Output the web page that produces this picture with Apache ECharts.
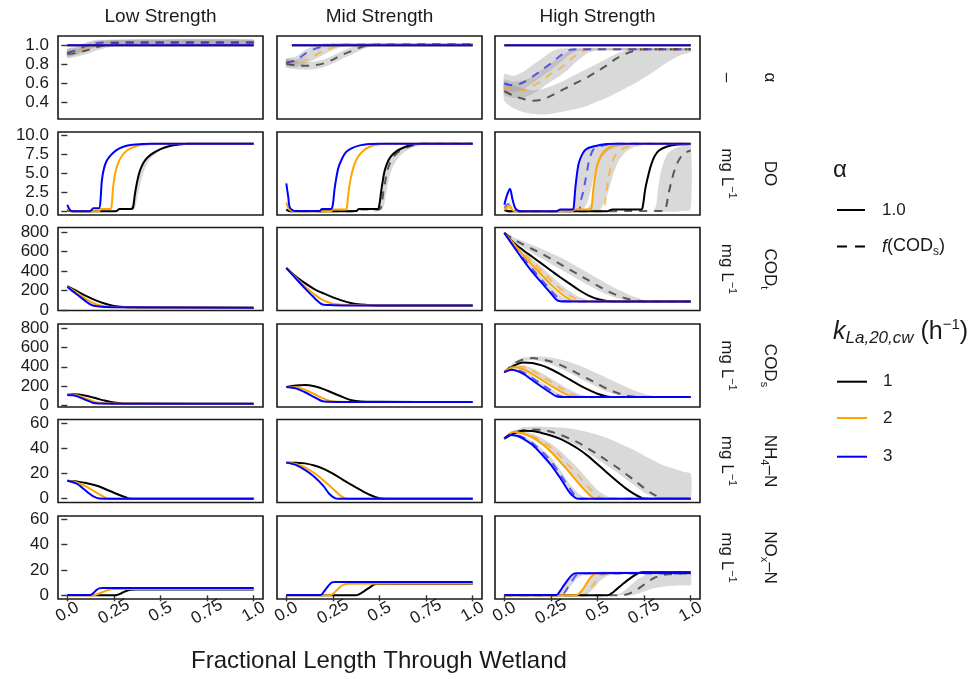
<!DOCTYPE html>
<html>
<head>
<meta charset="utf-8">
<script src="https://cdn.jsdelivr.net/npm/echarts@6/dist/echarts.min.js"></script>
<style>
html,body{margin:0;padding:0;background:#fff}
#chart{width:979px;height:679px}
</style>
</head>
<body>
<div id="chart"></div>
<script>
// ---------- facet labels and ticks ----------
const strengths = ['Low Strength', 'Mid Strength', 'High Strength'];
const rowNames = ['{m|α}', '{m|DO}', '{m|COD}{sub|t}', '{m|COD}{sub|s}', '{m|NH}{sub|4}{m|–N}', '{m|NO}{sub|x}{m|–N}'];
const rowUnits = ['{m|–}', '{m|mg L}{sup|−1}', '{m|mg L}{sup|−1}', '{m|mg L}{sup|−1}', '{m|mg L}{sup|−1}', '{m|mg L}{sup|−1}'];
const klaLevels = ['1', '2', '3'];
const alphaLevels = ['1.0', 'f(COD_s)'];
const xTicks = [0, 0.25, 0.5, 0.75, 1];
const xTickLabels = ['0.0', '0.25', '0.5', '0.75', '1.0'];
const yTicksAlpha = [0.4, 0.6, 0.8, 1.0];
const yLabelsAlpha = ['0.4', '0.6', '0.8', '1.0'];
const yTicksDO = [0, 2.5, 5, 7.5, 10];
const yLabelsDO = ['0.0', '2.5', '5.0', '7.5', '10.0'];
const yTicksCOD = [0, 200, 400, 600, 800];
const yLabelsCOD = ['0', '200', '400', '600', '800'];
const yTicksN = [0, 20, 40, 60];
const yLabelsN = ['0', '20', '40', '60'];

// ---------- alpha ----------
const alphaSolid = [[0, 1], [1, 1]];
const alphaSolidMid = [[0.03, 1], [1, 1]];
const alphaLowK1 = [[0, 0.91], [0.05, 0.92], [0.1, 0.945], [0.15, 0.975], [0.2, 1.0], [0.25, 1.02], [0.3, 1.028], [1, 1.028]];
const alphaLowK2 = [[0, 0.92], [0.05, 0.935], [0.1, 0.975], [0.15, 1.01], [0.2, 1.025], [0.25, 1.028], [1, 1.028]];
const alphaLowK3 = [[0, 0.92], [0.05, 0.95], [0.1, 0.995], [0.15, 1.022], [0.2, 1.028], [1, 1.028]];
const alphaLowRibK1 = [[0, 0.87, 0.95], [0.05, 0.88, 0.96], [0.1, 0.905, 0.985], [0.15, 0.94, 1.015], [0.2, 0.97, 1.04], [0.25, 0.99, 1.055], [0.3, 1.005, 1.058], [1, 1.005, 1.058]];
const alphaLowRibK2 = [[0, 0.88, 0.96], [0.05, 0.9, 0.975], [0.1, 0.94, 1.015], [0.15, 0.975, 1.045], [0.2, 0.995, 1.055], [0.25, 1.005, 1.058], [1, 1.005, 1.058]];
const alphaLowRibK3 = [[0, 0.88, 0.96], [0.05, 0.91, 0.99], [0.1, 0.96, 1.03], [0.15, 0.99, 1.055], [0.2, 1.005, 1.058], [1, 1.005, 1.058]];
const alphaMidK1 = [[0, 0.81], [0.05, 0.79], [0.1, 0.785], [0.15, 0.79], [0.2, 0.81], [0.25, 0.85], [0.3, 0.9], [0.35, 0.94], [0.4, 0.98], [0.45, 1.0], [0.5, 1.007], [1, 1.007]];
const alphaMidK2 = [[0, 0.82], [0.05, 0.81], [0.1, 0.84], [0.15, 0.89], [0.2, 0.94], [0.25, 0.98], [0.3, 1.0], [0.35, 1.007], [1, 1.007]];
const alphaMidK3 = [[0, 0.82], [0.05, 0.84], [0.1, 0.91], [0.15, 0.96], [0.2, 0.99], [0.25, 1.005], [1, 1.007]];
const alphaMidRibK1 = [[0, 0.77, 0.85], [0.05, 0.75, 0.83], [0.1, 0.745, 0.825], [0.15, 0.75, 0.83], [0.2, 0.77, 0.85], [0.25, 0.81, 0.89], [0.3, 0.86, 0.94], [0.35, 0.9, 0.98], [0.4, 0.95, 1.01], [0.45, 0.985, 1.02], [0.5, 0.995, 1.02], [1, 0.995, 1.02]];
const alphaMidRibK2 = [[0, 0.78, 0.86], [0.05, 0.77, 0.85], [0.1, 0.8, 0.88], [0.15, 0.85, 0.93], [0.2, 0.9, 0.98], [0.25, 0.95, 1.01], [0.3, 0.985, 1.02], [0.35, 0.995, 1.02], [1, 0.995, 1.02]];
const alphaMidRibK3 = [[0, 0.78, 0.86], [0.05, 0.8, 0.88], [0.1, 0.87, 0.95], [0.15, 0.93, 0.99], [0.2, 0.975, 1.02], [0.25, 0.995, 1.02], [1, 0.995, 1.02]];
const alphaHighK1 = [[0, 0.52], [0.05, 0.47], [0.1, 0.44], [0.15, 0.42], [0.2, 0.43], [0.25, 0.47], [0.3, 0.52], [0.35, 0.57], [0.4, 0.62], [0.45, 0.67], [0.5, 0.73], [0.55, 0.79], [0.6, 0.86], [0.65, 0.91], [0.7, 0.945], [0.75, 0.958], [1, 0.958]];
const alphaHighK2 = [[0, 0.56], [0.05, 0.53], [0.1, 0.53], [0.15, 0.57], [0.2, 0.63], [0.25, 0.7], [0.3, 0.76], [0.35, 0.84], [0.4, 0.92], [0.45, 0.955], [0.5, 0.958], [1, 0.958]];
const alphaHighK3 = [[0, 0.6], [0.05, 0.58], [0.1, 0.61], [0.15, 0.67], [0.2, 0.74], [0.25, 0.81], [0.3, 0.89], [0.35, 0.95], [0.4, 0.958], [1, 0.958]];
const alphaHighRibK1 = [[0, 0.42, 0.62], [0.05, 0.34, 0.58], [0.1, 0.3, 0.55], [0.15, 0.28, 0.53], [0.2, 0.275, 0.54], [0.25, 0.28, 0.57], [0.3, 0.3, 0.61], [0.35, 0.32, 0.66], [0.4, 0.34, 0.71], [0.45, 0.37, 0.76], [0.5, 0.41, 0.81], [0.55, 0.45, 0.86], [0.6, 0.5, 0.91], [0.65, 0.55, 0.945], [0.7, 0.6, 0.965], [0.75, 0.66, 0.97], [0.8, 0.72, 0.97], [0.85, 0.79, 0.97], [0.9, 0.85, 0.97], [0.95, 0.9, 0.97], [1, 0.93, 0.97]];
const alphaHighRibK2 = [[0, 0.48, 0.64], [0.05, 0.45, 0.62], [0.1, 0.45, 0.63], [0.15, 0.49, 0.67], [0.2, 0.55, 0.74], [0.25, 0.62, 0.81], [0.3, 0.68, 0.88], [0.35, 0.76, 0.94], [0.4, 0.85, 0.965], [0.45, 0.92, 0.97], [0.5, 0.945, 0.97], [1, 0.945, 0.97]];
const alphaHighRibK3 = [[0, 0.53, 0.7], [0.05, 0.51, 0.68], [0.1, 0.54, 0.72], [0.15, 0.6, 0.79], [0.2, 0.67, 0.86], [0.25, 0.74, 0.93], [0.3, 0.82, 0.965], [0.35, 0.9, 0.97], [0.4, 0.945, 0.97], [1, 0.945, 0.97]];

// ---------- dissolved oxygen ----------
const doLowK1 = [[0, 0.2], [0.02, 0.05], [0.1, 0.05], [0.26, 0.05], [0.28, 0.35], [0.34, 0.35], [0.352, 0.5], [0.362, 2.2], [0.372, 3.6], [0.385, 5.0], [0.4, 6.0], [0.42, 6.8], [0.45, 7.5], [0.5, 8.2], [0.55, 8.6], [0.6, 8.8], [0.65, 8.9], [1, 8.9]];
const doLowK2 = [[0, 0.4], [0.02, 0.1], [0.1, 0.05], [0.17, 0.05], [0.18, 0.35], [0.23, 0.35], [0.238, 0.8], [0.245, 3.0], [0.255, 4.8], [0.27, 6.2], [0.29, 7.2], [0.32, 8.0], [0.36, 8.5], [0.4, 8.75], [0.5, 8.9], [1, 8.9]];
const doLowK3 = [[0, 0.9], [0.015, 0.2], [0.03, 0.05], [0.12, 0.05], [0.14, 0.45], [0.17, 0.45], [0.178, 1.5], [0.185, 4.0], [0.195, 5.5], [0.21, 6.6], [0.23, 7.3], [0.26, 8.0], [0.3, 8.5], [0.35, 8.75], [0.45, 8.9], [1, 8.9]];
const doLowRibK1 = [[0.34, 0.2, 0.5], [0.355, 0.3, 1.5], [0.365, 0.6, 3.0], [0.375, 1.8, 4.2], [0.39, 3.5, 5.5], [0.41, 5.2, 6.5], [0.44, 6.8, 7.4], [0.5, 8.0, 8.3], [0.6, 8.75, 8.85], [1, 8.85, 8.92]];
const doMidK1 = [[0, 0.3], [0.02, 0.05], [0.2, 0.05], [0.375, 0.1], [0.39, 0.35], [0.49, 0.35], [0.5, 1.0], [0.508, 2.5], [0.516, 3.8], [0.526, 5.2], [0.54, 6.3], [0.56, 7.2], [0.59, 7.9], [0.63, 8.4], [0.67, 8.75], [0.72, 8.9], [1, 8.9]];
const doMidK1Dash = [[0, 0.3], [0.02, 0.05], [0.38, 0.05], [0.4, 0.3], [0.5, 0.3], [0.512, 1.0], [0.52, 2.5], [0.53, 3.8], [0.54, 5.2], [0.555, 6.3], [0.575, 7.2], [0.605, 7.9], [0.645, 8.4], [0.685, 8.75], [0.74, 8.9], [1, 8.9]];
const doMidK2 = [[0, 1.2], [0.015, 0.3], [0.04, 0.05], [0.24, 0.05], [0.25, 0.3], [0.32, 0.3], [0.327, 1.0], [0.335, 2.8], [0.345, 4.3], [0.36, 5.8], [0.38, 7.0], [0.41, 7.9], [0.44, 8.4], [0.48, 8.75], [0.54, 8.9], [1, 8.9]];
const doMidK3 = [[0, 3.7], [0.01, 2.0], [0.02, 0.5], [0.05, 0.08], [0.18, 0.08], [0.19, 0.35], [0.24, 0.35], [0.25, 1.0], [0.258, 2.8], [0.268, 4.4], [0.28, 5.8], [0.3, 7.0], [0.32, 7.8], [0.35, 8.3], [0.39, 8.65], [0.45, 8.85], [0.5, 8.9], [1, 8.9]];
const doMidRibK1 = [[0.47, 0, 0.4], [0.49, 0.05, 0.4], [0.5, 0.2, 1.0], [0.51, 0.3, 3.0], [0.52, 0.5, 4.5], [0.53, 1.5, 5.6], [0.54, 3.0, 6.3], [0.55, 4.3, 6.8], [0.57, 5.8, 7.5], [0.6, 7.0, 8.1], [0.64, 7.9, 8.5], [0.68, 8.4, 8.8], [0.74, 8.8, 8.9], [1, 8.85, 8.9]];
const doHighK1 = [[0, 0.3], [0.02, 0.05], [0.55, 0.05], [0.58, 0.3], [0.735, 0.3], [0.745, 1.0], [0.755, 2.8], [0.768, 4.3], [0.786, 6.0], [0.805, 7.2], [0.83, 8.0], [0.87, 8.5], [0.92, 8.75], [1, 8.85]];
const doHighK2 = [[0, 0.2], [0.015, 0.6], [0.03, 0.8], [0.045, 0.2], [0.07, 0.05], [0.36, 0.05], [0.38, 0.3], [0.462, 0.3], [0.47, 1.0], [0.477, 2.8], [0.485, 4.3], [0.5, 6.2], [0.52, 7.4], [0.54, 8.0], [0.57, 8.5], [0.62, 8.75], [0.7, 8.9], [1, 8.9]];
const doHighK3 = [[0, 0.9], [0.015, 2.2], [0.03, 3.0], [0.045, 1.5], [0.06, 0.4], [0.09, 0.05], [0.28, 0.05], [0.3, 0.3], [0.368, 0.3], [0.374, 1.0], [0.38, 2.8], [0.388, 4.6], [0.4, 6.4], [0.42, 7.6], [0.44, 8.2], [0.49, 8.6], [0.55, 8.85], [0.6, 8.9], [1, 8.9]];
const doHighK1Dash = [[0, 0.2], [0.04, 0.05], [0.6, 0.05], [0.65, 0.1], [0.86, 0.1], [0.87, 0.8], [0.88, 2.2], [0.9, 4.3], [0.92, 5.9], [0.945, 7.1], [0.97, 7.7], [1, 8.0]];
const doHighK2Dash = [[0, 0.3], [0.03, 0.5], [0.06, 0.1], [0.4, 0.1], [0.53, 0.2], [0.54, 1.0], [0.548, 2.5], [0.558, 4.3], [0.57, 5.7], [0.585, 6.9], [0.61, 7.8], [0.64, 8.3], [0.68, 8.65], [0.75, 8.85], [1, 8.9]];
const doHighK3Dash = [[0, 0.5], [0.02, 1.0], [0.04, 0.4], [0.07, 0.05], [0.35, 0.1], [0.4, 0.2], [0.41, 1.4], [0.425, 2.8], [0.436, 4.2], [0.457, 6.9], [0.48, 8.2], [0.52, 8.6], [0.56, 8.8], [0.62, 8.9], [1, 8.9]];
const doHighRibK1 = [[0.8, 0, 0.1], [0.815, 0, 0.8], [0.825, 0, 3.0], [0.84, 0, 5.2], [0.86, 0, 6.8], [0.88, 0, 7.7], [0.91, 0, 8.2], [0.95, 0.1, 8.55], [1, 0.3, 8.7]];
const doHighRibK2 = [[0.44, 0, 0.3], [0.47, 0, 1.2], [0.48, 0.1, 4.0], [0.49, 0.1, 5.6], [0.5, 0.2, 6.5], [0.52, 0.5, 7.5], [0.55, 2.0, 8.1], [0.58, 4.5, 8.5], [0.61, 6.5, 8.7], [0.65, 7.8, 8.8], [0.7, 8.5, 8.9], [0.78, 8.9, 8.9], [1, 8.9, 8.9]];
const doHighRibK3 = [[0.36, 0, 0.3], [0.375, 0, 0.8], [0.385, 0.1, 3.5], [0.395, 0.1, 5.8], [0.41, 0.2, 7.2], [0.43, 0.5, 8.0], [0.45, 1.5, 8.4], [0.47, 3.5, 8.6], [0.49, 5.5, 8.7], [0.52, 7.0, 8.8], [0.56, 8.0, 8.9], [0.62, 8.6, 8.9], [0.7, 8.9, 8.9], [1, 8.9, 8.9]];

// ---------- total COD ----------
const codtLowK1 = [[0, 245], [0.05, 195], [0.1, 145], [0.15, 102], [0.2, 66], [0.25, 40], [0.3, 30], [0.4, 26], [1, 24]];
const codtLowK2 = [[0, 240], [0.05, 178], [0.1, 112], [0.15, 62], [0.2, 38], [0.25, 30], [0.35, 27], [1, 24]];
const codtLowK3 = [[0, 235], [0.05, 162], [0.1, 88], [0.125, 55], [0.15, 40], [0.2, 32], [0.3, 28], [1, 24]];
const codtMidK1 = [[0, 430], [0.05, 345], [0.1, 275], [0.15, 215], [0.2, 170], [0.25, 130], [0.3, 96], [0.35, 70], [0.4, 56], [0.45, 50], [0.55, 47], [1, 45]];
const codtMidK2 = [[0, 430], [0.05, 335], [0.1, 242], [0.15, 160], [0.2, 98], [0.25, 64], [0.3, 53], [0.4, 48], [1, 45]];
const codtMidK3 = [[0, 430], [0.05, 325], [0.1, 222], [0.15, 125], [0.185, 65], [0.2, 54], [0.25, 50], [0.35, 47], [1, 45]];
const codtHighK1 = [[0, 790], [0.05, 690], [0.1, 615], [0.15, 545], [0.2, 475], [0.25, 405], [0.3, 335], [0.35, 270], [0.4, 205], [0.45, 150], [0.5, 112], [0.55, 93], [0.6, 88], [1, 86]];
const codtHighK2 = [[0, 790], [0.05, 680], [0.1, 565], [0.15, 460], [0.2, 360], [0.25, 260], [0.3, 175], [0.35, 110], [0.38, 92], [0.45, 88], [1, 86]];
const codtHighK3 = [[0, 790], [0.05, 650], [0.1, 515], [0.15, 390], [0.2, 280], [0.25, 170], [0.28, 105], [0.3, 90], [0.35, 87], [1, 86]];
const codtHighK1Dash = [[0, 790], [0.05, 725], [0.1, 672], [0.15, 625], [0.2, 578], [0.25, 525], [0.3, 470], [0.35, 415], [0.4, 360], [0.45, 305], [0.5, 250], [0.55, 198], [0.6, 155], [0.65, 120], [0.7, 98], [0.75, 90], [1, 86]];
const codtHighK2Dash = [[0, 790], [0.05, 690], [0.1, 590], [0.15, 495], [0.2, 400], [0.25, 305], [0.3, 220], [0.35, 150], [0.4, 100], [0.43, 90], [0.5, 87], [1, 86]];
const codtHighK3Dash = [[0, 790], [0.05, 665], [0.1, 540], [0.15, 420], [0.2, 310], [0.25, 200], [0.29, 120], [0.32, 92], [0.4, 87], [1, 86]];
const codtHighRibK1 = [[0, 785, 795], [0.05, 705, 745], [0.1, 640, 705], [0.15, 585, 665], [0.2, 530, 625], [0.25, 475, 585], [0.3, 420, 540], [0.35, 365, 490], [0.4, 310, 435], [0.45, 255, 380], [0.5, 205, 325], [0.55, 160, 270], [0.6, 125, 220], [0.65, 100, 175], [0.7, 90, 132], [0.75, 87, 102], [0.8, 86, 90], [1, 86, 88]];
const codtHighRibK2 = [[0, 785, 795], [0.05, 680, 700], [0.1, 570, 610], [0.15, 470, 525], [0.2, 370, 440], [0.25, 275, 350], [0.3, 190, 265], [0.35, 125, 195], [0.4, 95, 135], [0.45, 88, 100], [0.5, 86, 90], [1, 86, 88]];
const codtHighRibK3 = [[0, 785, 795], [0.05, 650, 680], [0.1, 520, 560], [0.15, 395, 445], [0.2, 285, 340], [0.25, 180, 235], [0.3, 100, 150], [0.35, 88, 100], [0.4, 86, 90], [1, 86, 88]];

// ---------- soluble COD ----------
const codsLowK1 = [[0, 112], [0.03, 118], [0.06, 116], [0.1, 102], [0.15, 78], [0.2, 52], [0.25, 32], [0.3, 23], [0.4, 21], [1, 20]];
const codsLowK2 = [[0, 112], [0.03, 113], [0.06, 102], [0.1, 72], [0.15, 38], [0.2, 24], [0.3, 21], [1, 20]];
const codsLowK3 = [[0, 110], [0.03, 106], [0.06, 90], [0.1, 58], [0.14, 27], [0.17, 22], [0.3, 20.5], [1, 20]];
const codsMidK1 = [[0, 192], [0.05, 208], [0.1, 212], [0.15, 200], [0.2, 170], [0.25, 130], [0.3, 90], [0.35, 55], [0.4, 42], [0.5, 39], [1, 38]];
const codsMidK2 = [[0, 192], [0.05, 190], [0.1, 165], [0.15, 120], [0.2, 72], [0.235, 48], [0.28, 40], [0.4, 38.5], [1, 38]];
const codsMidK3 = [[0, 192], [0.05, 178], [0.1, 138], [0.15, 88], [0.19, 48], [0.22, 40], [0.3, 38.5], [1, 38]];
const codsHighK1 = [[0, 345], [0.05, 410], [0.1, 445], [0.15, 440], [0.2, 415], [0.25, 375], [0.3, 325], [0.35, 270], [0.4, 215], [0.45, 165], [0.5, 122], [0.55, 95], [0.6, 89], [1, 88]];
const codsHighK2 = [[0, 345], [0.05, 395], [0.1, 375], [0.15, 325], [0.2, 265], [0.25, 205], [0.3, 148], [0.35, 100], [0.38, 90], [0.45, 88], [1, 88]];
const codsHighK3 = [[0, 345], [0.04, 370], [0.1, 330], [0.15, 262], [0.2, 195], [0.25, 130], [0.28, 95], [0.3, 89], [1, 88]];
const codsHighK1Dash = [[0, 345], [0.05, 430], [0.1, 475], [0.15, 490], [0.2, 478], [0.25, 455], [0.3, 420], [0.35, 375], [0.4, 325], [0.45, 275], [0.5, 225], [0.55, 175], [0.6, 135], [0.65, 105], [0.7, 92], [0.75, 89], [1, 88]];
const codsHighK2Dash = [[0, 345], [0.05, 400], [0.1, 400], [0.15, 360], [0.2, 305], [0.25, 245], [0.3, 185], [0.35, 130], [0.4, 95], [0.45, 89], [1, 88]];
const codsHighK3Dash = [[0, 345], [0.04, 375], [0.1, 345], [0.15, 285], [0.2, 220], [0.25, 155], [0.29, 105], [0.32, 90], [1, 88]];
const codsHighRibK1 = [[0, 340, 350], [0.05, 420, 450], [0.1, 460, 492], [0.15, 470, 505], [0.2, 455, 505], [0.25, 425, 495], [0.3, 385, 475], [0.35, 338, 450], [0.4, 288, 415], [0.45, 238, 375], [0.5, 190, 330], [0.55, 145, 285], [0.6, 112, 240], [0.65, 96, 195], [0.7, 90, 155], [0.75, 88, 120], [0.8, 88, 100], [0.85, 88, 92], [1, 87, 89]];
const codsHighRibK2 = [[0, 340, 350], [0.05, 390, 410], [0.1, 380, 415], [0.15, 335, 385], [0.2, 275, 335], [0.25, 215, 280], [0.3, 158, 222], [0.35, 110, 165], [0.4, 92, 120], [0.45, 89, 98], [0.5, 88, 90], [1, 87, 89]];
const codsHighRibK3 = [[0, 340, 350], [0.04, 365, 385], [0.1, 330, 360], [0.15, 265, 305], [0.2, 200, 240], [0.25, 135, 180], [0.3, 92, 120], [0.35, 88, 92], [1, 87, 89]];

// ---------- ammonium ----------
const nhLowK1 = [[0, 14.3], [0.05, 13.8], [0.1, 12.5], [0.15, 10.7], [0.2, 8.0], [0.25, 4.8], [0.3, 1.8], [0.33, 0.3], [0.36, 0], [1, 0]];
const nhLowK2 = [[0, 14.3], [0.05, 13], [0.1, 9.8], [0.15, 5.5], [0.19, 2], [0.22, 0.2], [0.25, 0], [1, 0]];
const nhLowK3 = [[0, 14.3], [0.05, 12], [0.08, 8.8], [0.11, 5], [0.14, 1.8], [0.17, 0.1], [0.2, 0], [1, 0]];
const nhMidK1 = [[0, 28.8], [0.05, 28.8], [0.1, 28.2], [0.15, 26.5], [0.2, 23.8], [0.25, 20], [0.3, 15.5], [0.35, 11], [0.4, 6.8], [0.45, 3], [0.5, 0.4], [0.53, 0], [1, 0]];
const nhMidK2 = [[0, 28.8], [0.05, 27.8], [0.1, 25], [0.15, 20.5], [0.2, 14.5], [0.25, 8], [0.29, 2.5], [0.32, 0.2], [0.35, 0], [1, 0]];
const nhMidK3 = [[0, 28.8], [0.05, 27], [0.1, 23], [0.15, 17.5], [0.2, 10], [0.23, 4], [0.26, 0.5], [0.28, 0], [1, 0]];
const nhHighK1 = [[0, 48], [0.05, 52], [0.1, 54.2], [0.15, 54], [0.2, 52.5], [0.25, 50.5], [0.3, 47.8], [0.35, 44], [0.4, 39.5], [0.45, 34], [0.5, 27.5], [0.55, 21], [0.6, 14.5], [0.65, 8.5], [0.7, 3.5], [0.74, 0.5], [0.78, 0], [1, 0]];
const nhHighK2 = [[0, 48], [0.05, 53.4], [0.1, 52], [0.15, 49], [0.2, 44], [0.25, 37.5], [0.3, 29.5], [0.35, 21], [0.4, 12], [0.45, 4], [0.48, 0.5], [0.5, 0], [1, 0]];
const nhHighK3 = [[0, 48], [0.03, 50.8], [0.07, 50], [0.1, 48], [0.15, 43], [0.2, 35.5], [0.25, 27], [0.3, 16.5], [0.35, 5], [0.38, 0.8], [0.4, 0], [1, 0]];
const nhHighK1Dash = [[0, 48], [0.05, 52.5], [0.1, 54.5], [0.15, 55.2], [0.2, 55], [0.25, 53.5], [0.3, 51], [0.35, 48], [0.4, 44.5], [0.45, 40], [0.5, 35.5], [0.55, 30.5], [0.6, 25.5], [0.65, 20], [0.7, 14.5], [0.75, 8.5], [0.8, 3.5], [0.85, 0.5], [0.9, 0], [1, 0]];
const nhHighK2Dash = [[0, 48], [0.05, 53], [0.1, 52.5], [0.15, 50], [0.2, 46], [0.25, 41], [0.3, 34], [0.35, 26], [0.4, 18], [0.45, 9.5], [0.5, 2.5], [0.53, 0.2], [0.56, 0], [1, 0]];
const nhHighK3Dash = [[0, 48], [0.03, 51], [0.07, 50.5], [0.1, 49], [0.15, 44.5], [0.2, 38], [0.25, 30], [0.3, 19.5], [0.35, 8.5], [0.38, 2.5], [0.41, 0], [1, 0]];
const nhHighRibK1 = [[0, 47, 49], [0.05, 51.5, 54], [0.1, 53.5, 57], [0.15, 54, 57.5], [0.2, 53.5, 57.5], [0.25, 52, 57.3], [0.3, 49, 56.8], [0.35, 45.5, 56], [0.4, 41.5, 54.8], [0.45, 36.5, 53], [0.5, 31.5, 51], [0.55, 26.5, 48.5], [0.6, 21.5, 45.5], [0.65, 16, 42], [0.7, 10.5, 38.5], [0.75, 5, 34.5], [0.8, 1.5, 30.5], [0.85, 0, 27], [0.9, 0, 24.5], [0.95, 0, 22], [1, 0, 20]];
const nhHighRibK2 = [[0, 47, 49], [0.05, 52, 54.5], [0.1, 51, 54], [0.15, 48, 52], [0.2, 43, 48.5], [0.25, 36.5, 44], [0.3, 28.5, 38], [0.35, 20, 31], [0.4, 11, 23.5], [0.45, 3.5, 15], [0.5, 0.3, 7], [0.55, 0, 2], [0.6, 0, 0.3], [1, 0, 0.1]];
const nhHighRibK3 = [[0, 47, 49], [0.03, 50, 52], [0.07, 49.5, 51.5], [0.1, 47.5, 50], [0.15, 42.5, 46], [0.2, 35, 40], [0.25, 26.5, 33], [0.3, 16, 23], [0.35, 4.5, 12], [0.4, 0, 4], [0.43, 0, 1], [0.46, 0, 0.2], [1, 0, 0.1]];

// ---------- oxidised nitrogen ----------
const noLowK1 = [[0, 0], [0.26, 0], [0.28, 1.0], [0.3, 2.4], [0.32, 3.6], [0.34, 4.3], [0.37, 4.5], [1, 4.5]];
const noLowK2 = [[0, 0], [0.14, 0], [0.16, 0.8], [0.19, 2.6], [0.22, 4.2], [0.25, 4.9], [0.28, 5.0], [1, 5.0]];
const noLowK3 = [[0, 0.3], [0.125, 0.3], [0.14, 1.8], [0.155, 4.0], [0.17, 5.5], [0.19, 5.8], [1, 5.8]];
const noMidK1 = [[0, 0], [0.37, 0], [0.39, 0.8], [0.42, 3.5], [0.45, 6.5], [0.47, 8.4], [0.49, 9.1], [0.52, 9.2], [1, 9.2]];
const noMidK2 = [[0, 0], [0.235, 0], [0.25, 1.2], [0.27, 4.0], [0.29, 6.8], [0.31, 8.6], [0.33, 9.2], [1, 9.3]];
const noMidK3 = [[0, 0.3], [0.185, 0.3], [0.2, 2.5], [0.215, 5.5], [0.23, 8.2], [0.245, 10.2], [0.26, 10.5], [1, 10.5]];
const noHighK1 = [[0, 0], [0.555, 0], [0.575, 1.5], [0.6, 4.5], [0.63, 8.2], [0.66, 11.8], [0.69, 15.0], [0.72, 17.5], [0.745, 18.4], [1, 18.5]];
const noHighK2 = [[0, 0], [0.385, 0], [0.4, 1.2], [0.42, 4.5], [0.44, 9.0], [0.46, 13.5], [0.48, 16.5], [0.5, 17.6], [0.53, 17.8], [1, 17.8]];
const noHighK3 = [[0, 0.3], [0.28, 0.3], [0.295, 2.5], [0.31, 5.8], [0.33, 10], [0.35, 14], [0.37, 16.8], [0.385, 17.5], [1, 17.6]];
const noHighK1Dash = [[0, 0], [0.63, 0], [0.66, 0.8], [0.69, 2.8], [0.72, 5.3], [0.76, 9.5], [0.8, 13.4], [0.84, 15.6], [0.88, 16.6], [0.93, 17.1], [1, 17.3]];
const noHighK2Dash = [[0, 0], [0.42, 0], [0.44, 1.5], [0.46, 5], [0.48, 9], [0.5, 13], [0.52, 15.8], [0.55, 17.2], [0.6, 17.5], [1, 17.5]];
const noHighK3Dash = [[0, 0.3], [0.31, 0.3], [0.325, 2.5], [0.34, 6], [0.355, 9.5], [0.37, 13], [0.385, 15.8], [0.4, 17], [0.43, 17.3], [1, 17.3]];
const noHighRibK1 = [[0.6, 0, 0.3], [0.63, 0, 2], [0.66, 0, 5.5], [0.69, 0.3, 9.5], [0.72, 1.5, 13], [0.76, 3.5, 16], [0.8, 5.5, 17.3], [0.85, 6.8, 17.8], [0.9, 7.5, 18], [0.95, 7.9, 18], [1, 8.1, 18]];
const noHighRibK2 = [[0.38, 0, 0.3], [0.4, 0, 1.5], [0.42, 0, 4.5], [0.44, 0.5, 8.5], [0.46, 2.5, 12.5], [0.48, 5.5, 15.5], [0.5, 9, 17], [0.52, 12, 17.5], [0.55, 15, 17.6], [0.6, 16.8, 17.6], [0.65, 17.3, 17.6], [1, 17.3, 17.6]];
const noHighRibK3 = [[0.28, 0, 0.3], [0.3, 0, 3], [0.32, 1.5, 7.5], [0.34, 4.5, 11.5], [0.36, 8, 15], [0.38, 11.5, 17], [0.4, 14.5, 17.4], [0.43, 16.5, 17.5], [0.47, 17.2, 17.5], [1, 17.2, 17.5]];

// ---------- panel table (row = variable, column = strength) ----------
// where the f(COD_s) run coincides with the alpha = 1.0 run, the same array is used for both
const panels = [
  [
    { solid: [alphaSolid, alphaSolid, alphaSolid], dashed: [alphaLowK1, alphaLowK2, alphaLowK3], ribbons: [alphaLowRibK1, alphaLowRibK2, alphaLowRibK3] },
    { solid: [alphaSolidMid, alphaSolidMid, alphaSolidMid], dashed: [alphaMidK1, alphaMidK2, alphaMidK3], ribbons: [alphaMidRibK1, alphaMidRibK2, alphaMidRibK3] },
    { solid: [alphaSolid, alphaSolid, alphaSolid], dashed: [alphaHighK1, alphaHighK2, alphaHighK3], ribbons: [alphaHighRibK1, alphaHighRibK2, alphaHighRibK3] }
  ],
  [
    { solid: [doLowK1, doLowK2, doLowK3], dashed: [doLowK1, doLowK2, doLowK3], ribbons: [doLowRibK1] },
    { solid: [doMidK1, doMidK2, doMidK3], dashed: [doMidK1Dash, doMidK2, doMidK3], ribbons: [doMidRibK1] },
    { solid: [doHighK1, doHighK2, doHighK3], dashed: [doHighK1Dash, doHighK2Dash, doHighK3Dash], ribbons: [doHighRibK1, doHighRibK2, doHighRibK3] }
  ],
  [
    { solid: [codtLowK1, codtLowK2, codtLowK3], dashed: [codtLowK1, codtLowK2, codtLowK3], ribbons: [] },
    { solid: [codtMidK1, codtMidK2, codtMidK3], dashed: [codtMidK1, codtMidK2, codtMidK3], ribbons: [] },
    { solid: [codtHighK1, codtHighK2, codtHighK3], dashed: [codtHighK1Dash, codtHighK2Dash, codtHighK3Dash], ribbons: [codtHighRibK1, codtHighRibK2, codtHighRibK3] }
  ],
  [
    { solid: [codsLowK1, codsLowK2, codsLowK3], dashed: [codsLowK1, codsLowK2, codsLowK3], ribbons: [] },
    { solid: [codsMidK1, codsMidK2, codsMidK3], dashed: [codsMidK1, codsMidK2, codsMidK3], ribbons: [] },
    { solid: [codsHighK1, codsHighK2, codsHighK3], dashed: [codsHighK1Dash, codsHighK2Dash, codsHighK3Dash], ribbons: [codsHighRibK1, codsHighRibK2, codsHighRibK3] }
  ],
  [
    { solid: [nhLowK1, nhLowK2, nhLowK3], dashed: [nhLowK1, nhLowK2, nhLowK3], ribbons: [] },
    { solid: [nhMidK1, nhMidK2, nhMidK3], dashed: [nhMidK1, nhMidK2, nhMidK3], ribbons: [] },
    { solid: [nhHighK1, nhHighK2, nhHighK3], dashed: [nhHighK1Dash, nhHighK2Dash, nhHighK3Dash], ribbons: [nhHighRibK1, nhHighRibK2, nhHighRibK3] }
  ],
  [
    { solid: [noLowK1, noLowK2, noLowK3], dashed: [noLowK1, noLowK2, noLowK3], ribbons: [] },
    { solid: [noMidK1, noMidK2, noMidK3], dashed: [noMidK1, noMidK2, noMidK3], ribbons: [] },
    { solid: [noHighK1, noHighK2, noHighK3], dashed: [noHighK1Dash, noHighK2Dash, noHighK3Dash], ribbons: [noHighRibK1, noHighRibK2, noHighRibK3] }
  ]
];

const yAxisTicks = [
  [yTicksAlpha, yLabelsAlpha], [yTicksDO, yLabelsDO], [yTicksCOD, yLabelsCOD],
  [yTicksCOD, yLabelsCOD], [yTicksN, yLabelsN], [yTicksN, yLabelsN]
];

// ---------- layout & style ----------
const FONT = '"Liberation Sans", Arial, sans-serif';
const TXT = '#1a1a1a';
const kColors = ['#000000', '#FFA500', '#0000FF'];
const colLefts = [58, 277, 495];
const rowTops = [36, 132, 227.5, 324, 419.5, 516];
const panelW = 205, panelH = 83;
const yRanges = [[0.228, 1.097], [-0.43, 10.43], [-5, 845], [-14, 841], [-3, 63.2], [-2.9, 62.6]];
const dashPattern = [8, 7];
const ribbonFill = 'rgba(150,150,150,0.36)';
const lineSmooth = 0.3;

function labelFor(values, labels) {
  return function (v) {
    for (let i = 0; i < values.length; i++) {
      if (Math.abs(values[i] - v) < 1e-9) return labels[i];
    }
    return '';
  };
}

// polygon between lower and upper bounds of one ribbon, placed through the axes
function ribbonRenderer(rib) {
  return function (params, api) {
    if (params.dataIndex !== 0) return null;
    const upper = rib.map(d => api.coord([d[0], d[2]]));
    const lower = rib.map(d => api.coord([d[0], d[1]])).reverse();
    return {
      type: 'polygon',
      shape: { points: upper.concat(lower), smooth: 0.2 },
      style: { fill: ribbonFill, stroke: null }
    };
  };
}

const grids = [], xAxes = [], yAxes = [], series = [];
for (let r = 0; r < 6; r++) {
  for (let c = 0; c < 3; c++) {
    const g = r * 3 + c;
    grids.push({
      left: colLefts[c], top: rowTops[r], width: panelW, height: panelH,
      show: true, borderColor: '#1a1a1a', borderWidth: 1.6, backgroundColor: 'transparent',
      containLabel: false, outerBoundsMode: 'none'
    });
    xAxes.push({
      gridIndex: g, type: 'value', min: -0.05, max: 1.05,
      axisLine: { show: false }, splitLine: { show: false },
      axisTick: { show: r === 5, length: 6, customValues: xTicks, lineStyle: { color: '#333', width: 1.4 } },
      axisLabel: {
        show: r === 5, customValues: xTicks, formatter: labelFor(xTicks, xTickLabels),
        rotate: 30, align: 'center', verticalAlign: 'middle', margin: 13,
        fontSize: 17, fontFamily: FONT, color: TXT, hideOverlap: false
      }
    });
    const [tv, tl] = yAxisTicks[r];
    yAxes.push({
      gridIndex: g, type: 'value', min: yRanges[r][0], max: yRanges[r][1],
      axisLine: { show: false }, splitLine: { show: false },
      axisTick: { show: c === 0, length: 6, customValues: tv, lineStyle: { color: '#333', width: 1.4 } },
      axisLabel: {
        show: c === 0, customValues: tv, formatter: labelFor(tv, tl), margin: 9,
        fontSize: 17, fontFamily: FONT, color: TXT, hideOverlap: false
      }
    });

    const p = panels[r][c];
    // uncertainty ribbons
    p.ribbons.forEach(function (rib) {
      series.push({
        type: 'custom', coordinateSystem: 'cartesian2d', xAxisIndex: g, yAxisIndex: g,
        data: rib, encode: { x: 0, y: [1, 2] }, renderItem: ribbonRenderer(rib),
        clip: true, silent: true, z: 2
      });
    });
    // alpha = f(COD_s) (dashed); a run identical to its solid twin is hidden underneath it
    p.dashed.forEach(function (d, k) {
      if (d === p.solid[k]) return;
      series.push({
        type: 'line', xAxisIndex: g, yAxisIndex: g, name: klaLevels[k] + ' / ' + alphaLevels[1],
        data: d, symbol: 'none', smooth: lineSmooth,
        lineStyle: { color: kColors[k], width: 2, type: dashPattern, opacity: 0.6 }, silent: true, z: 3
      });
    });
    // alpha = 1.0 (solid)
    p.solid.forEach(function (d, k) {
      series.push({
        type: 'line', xAxisIndex: g, yAxisIndex: g, name: klaLevels[k] + ' / ' + alphaLevels[0],
        data: d, symbol: 'none', smooth: lineSmooth,
        lineStyle: { color: kColors[k], width: 2 }, silent: true, z: 4
      });
    });
  }
}

// ---------- strips, axis title, legend ----------
const graphics = [];
const richBase = {
  m: { fontSize: 17, fontFamily: FONT, fill: TXT, lineHeight: 22 },
  sub: { fontSize: 11, fontFamily: FONT, fill: TXT, lineHeight: 11, verticalAlign: 'bottom' },
  sup: { fontSize: 11, fontFamily: FONT, fill: TXT, lineHeight: 11, verticalAlign: 'top' }
};
strengths.forEach(function (s, c) {
  graphics.push({
    type: 'text', x: colLefts[c] + panelW / 2, y: 17,
    style: { text: s, font: '19px ' + FONT, fill: TXT, align: 'center', verticalAlign: 'middle' }
  });
});
for (let r = 0; r < 6; r++) {
  const cy = rowTops[r] + panelH / 2;
  graphics.push({
    type: 'text', x: 727, y: cy, rotation: -Math.PI / 2,
    style: { text: rowUnits[r], rich: richBase, align: 'center', verticalAlign: 'middle' }
  });
  graphics.push({
    type: 'text', x: 770, y: cy, rotation: -Math.PI / 2,
    style: { text: rowNames[r], rich: richBase, align: 'center', verticalAlign: 'middle' }
  });
}
graphics.push({
  type: 'text', x: 379, y: 661,
  style: { text: 'Fractional Length Through Wetland', font: '24px ' + FONT, fill: TXT, align: 'center', verticalAlign: 'middle' }
});

// legend: alpha line types
graphics.push({ type: 'text', x: 833, y: 170, style: { text: 'α', font: '24px ' + FONT, fill: TXT, align: 'left', verticalAlign: 'middle' } });
graphics.push({ type: 'line', shape: { x1: 837, y1: 210, x2: 865, y2: 210 }, style: { stroke: '#000', lineWidth: 2 } });
graphics.push({ type: 'text', x: 882, y: 210, style: { text: alphaLevels[0], font: '17px ' + FONT, fill: TXT, align: 'left', verticalAlign: 'middle' } });
graphics.push({ type: 'line', shape: { x1: 837, y1: 246.5, x2: 865, y2: 246.5 }, style: { stroke: '#000', lineWidth: 2, lineDash: [10, 8] } });
graphics.push({
  type: 'text', x: 882, y: 246.5,
  style: {
    text: '{i|f}{m|(COD}{sub|s}{m|)}', align: 'left', verticalAlign: 'middle',
    rich: {
      i: { fontSize: 18, fontFamily: FONT, fontStyle: 'italic', fill: TXT, lineHeight: 22 },
      m: { fontSize: 18, fontFamily: FONT, fill: TXT, lineHeight: 22 },
      sub: { fontSize: 12, fontFamily: FONT, fill: TXT, lineHeight: 12, verticalAlign: 'bottom' }
    }
  }
});
// legend: kLa colours
graphics.push({
  type: 'text', x: 833, y: 332,
  style: {
    text: '{k|k}{ks|La,20,cw}{p| (h}{sp|−1}{p|)}', align: 'left', verticalAlign: 'middle',
    rich: {
      k: { fontSize: 25, fontFamily: FONT, fontStyle: 'italic', fill: TXT, lineHeight: 30 },
      ks: { fontSize: 17, fontFamily: FONT, fontStyle: 'italic', fill: TXT, lineHeight: 16, verticalAlign: 'bottom' },
      p: { fontSize: 25, fontFamily: FONT, fill: TXT, lineHeight: 30 },
      sp: { fontSize: 15, fontFamily: FONT, fill: TXT, lineHeight: 15, verticalAlign: 'top' }
    }
  }
});
const legendRowsY = [381.7, 418, 456.7];
klaLevels.forEach(function (lv, k) {
  graphics.push({ type: 'line', shape: { x1: 837, y1: legendRowsY[k], x2: 867, y2: legendRowsY[k] }, style: { stroke: kColors[k], lineWidth: 2 } });
  graphics.push({ type: 'text', x: 883, y: legendRowsY[k], style: { text: lv, font: '17px ' + FONT, fill: TXT, align: 'left', verticalAlign: 'middle' } });
});

const chart = echarts.init(document.getElementById('chart'), null, { renderer: 'canvas' });
chart.setOption({
  animation: false,
  backgroundColor: '#ffffff',
  grid: grids,
  xAxis: xAxes,
  yAxis: yAxes,
  series: series,
  graphic: { elements: graphics }
});
</script>
</body>
</html>
